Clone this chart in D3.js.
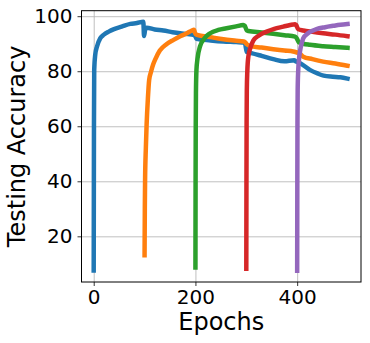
<!DOCTYPE html>
<html>
<head>
<meta charset="utf-8">
<script src="https://cdn.jsdelivr.net/npm/d3@7"></script>
<style>
  body { margin: 0; background: #fff; }
  svg { display: block; }
  .tick text { font-family: "DejaVu Sans", sans-serif; fill: #000; }
  .label { font-family: "DejaVu Sans", sans-serif; font-size: 24px; fill: #000; }
</style>
</head>
<body>
<div id="chart"></div>
<script>
// runs restarted every 100 epochs, [epoch, accuracy]
var run0 = [[0,7.6],[0.5,60],[1,80.5],[3,86],[6.5,89],[13,92],[20,93.3],[29.5,94.4],[40,95.3],[55,96.2],[72,97.2],[85,97.5],[97.5,98],[99,92.8],[101,95],[104,95.8],[120,95.2],[137,94.8],[155,94.2],[170,93.8],[185,93.5],[196,93.2],[199,93],[202,91.8],[230,91.2],[255,90.8],[280,90.6],[297,90.4],[301,87],[310,86.6],[330,85.6],[353,84.4],[375,83.6],[394,84],[398,83.5],[406,82.9],[425,80.5],[440,79.2],[452,78.4],[470,78],[485,77.8],[499,77.3]];
var run100 = [[100,13.1],[100.5,30],[101,40.5],[102.5,52],[104,60.5],[106.5,70],[109,76.8],[113,80],[117,82.5],[121,84.3],[130,87.5],[143,89.8],[157,91.4],[170,92.7],[183,93.8],[193,94.8],[197,95.1],[199,94],[203,93.2],[229,92.4],[255,91.6],[280,91.1],[295,90.8],[298,90.5],[301,89.8],[307,89.2],[330,88.6],[353,88],[375,87.5],[392,87.2],[398,86.9],[406,86.3],[412,85.3],[430,84.4],[451,83.5],[475,82.8],[499,82]];
var run200 = [[200,8.7],[200.3,40],[200.6,60],[201,72],[202,80.5],[204,84.5],[209,89],[218,92],[229,93.8],[245,95],[261,95.6],[280,96.3],[294,96.8],[297,96.5],[301,94.8],[304,94.6],[330,94.1],[353,93.6],[375,93.1],[396,92.6],[399,92],[403,90.6],[412,90],[425,89.6],[451,89.1],[475,88.8],[499,88.5]];
var run300 = [[300,8.2],[300.3,40],[300.6,62],[301,73],[302,80],[304,85.3],[308,88.5],[314,91.2],[325,93],[340,94.4],[355,95.4],[373,96.2],[386,96.8],[396,97.1],[398,96.8],[402,95.3],[412,94.8],[430,94.3],[451,93.8],[475,93.3],[499,92.7]];
var run400 = [[400,7.5],[400.3,40],[400.6,62],[401,73],[402,80],[404,85],[406,87.7],[409,90.2],[412,92],[420,93.6],[430,94.7],[438,95.3],[455,96],[471,96.5],[485,96.9],[499,97.2]];

var runs = [run0, run100, run200, run300, run400];
var colors = ["#1f77b4", "#ff7f0e", "#2ca02c", "#d62728", "#9467bd"];
var xTicks = [0, 200, 400];
var yTicks = [20, 40, 60, 80, 100];

var margin = {top: 10.7, left: 81.5, bottom: 61, right: 9},
    width = 370 - margin.left - margin.right,
    height = 343 - margin.top - margin.bottom;

var svg = d3.select("#chart").append("svg")
    .attr("width", 370)
    .attr("height", 343)
    .append("g")
    .attr("transform", "translate(" + margin.left + ", " + margin.top + ")");

var x = d3.scaleLinear().domain([-24, 525.5]).range([0, width]);
var y = d3.scaleLinear().domain([3.4, 102]).range([height, 0]);

// grid
svg.append("g")
    .attr("class", "grid")
    .attr("transform", "translate(0, " + height + ")")
    .call(d3.axisBottom(x).tickValues(xTicks).tickSize(-height).tickFormat(""))
    .call(function(g){ g.select(".domain").remove(); });
svg.append("g")
    .attr("class", "grid")
    .call(d3.axisLeft(y).tickValues(yTicks).tickSize(-width).tickFormat(""))
    .call(function(g){ g.select(".domain").remove(); });
svg.selectAll(".grid line").attr("stroke", "#b0b0b0").attr("stroke-width", 0.8);

var line = d3.line()
    .x(function(d){ return x(d[0]); })
    .y(function(d){ return y(d[1]); })
    .curve(d3.curveMonotoneX);

svg.selectAll(".run")
    .data(runs)
    .enter().append("path")
    .attr("class", "run")
    .attr("d", line)
    .attr("fill", "none")
    .attr("stroke", function(d, i){ return colors[i]; })
    .attr("stroke-width", 4.5)
    .attr("stroke-linejoin", "round")
    .attr("stroke-linecap", "square");

// axes
var xAxis = svg.append("g")
    .attr("transform", "translate(0, " + height + ")")
    .call(d3.axisBottom(x).tickValues(xTicks).tickSizeInner(4).tickSizeOuter(0).tickPadding(4));
var yAxis = svg.append("g")
    .call(d3.axisLeft(y).tickValues(yTicks).tickSizeInner(4).tickSizeOuter(0).tickPadding(5));
[xAxis, yAxis].forEach(function(g){
    g.select(".domain").remove();
    g.selectAll(".tick line").attr("stroke", "#000").attr("stroke-width", 0.8);
    g.selectAll(".tick text").style("font-size", "20px");
});

svg.append("rect")
    .attr("width", width)
    .attr("height", height)
    .attr("fill", "none")
    .attr("stroke", "#000")
    .attr("stroke-width", 1);

svg.append("text")
    .attr("class", "label")
    .attr("x", width / 2)
    .attr("y", 330 - margin.top)
    .attr("text-anchor", "middle")
    .text("Epochs");

svg.append("text")
    .attr("class", "label")
    .attr("transform", "translate(" + (25 - margin.left) + ", " + (height / 2) + ") rotate(-90)")
    .attr("text-anchor", "middle")
    .text("Testing Accuracy");
</script>
</body>
</html>
